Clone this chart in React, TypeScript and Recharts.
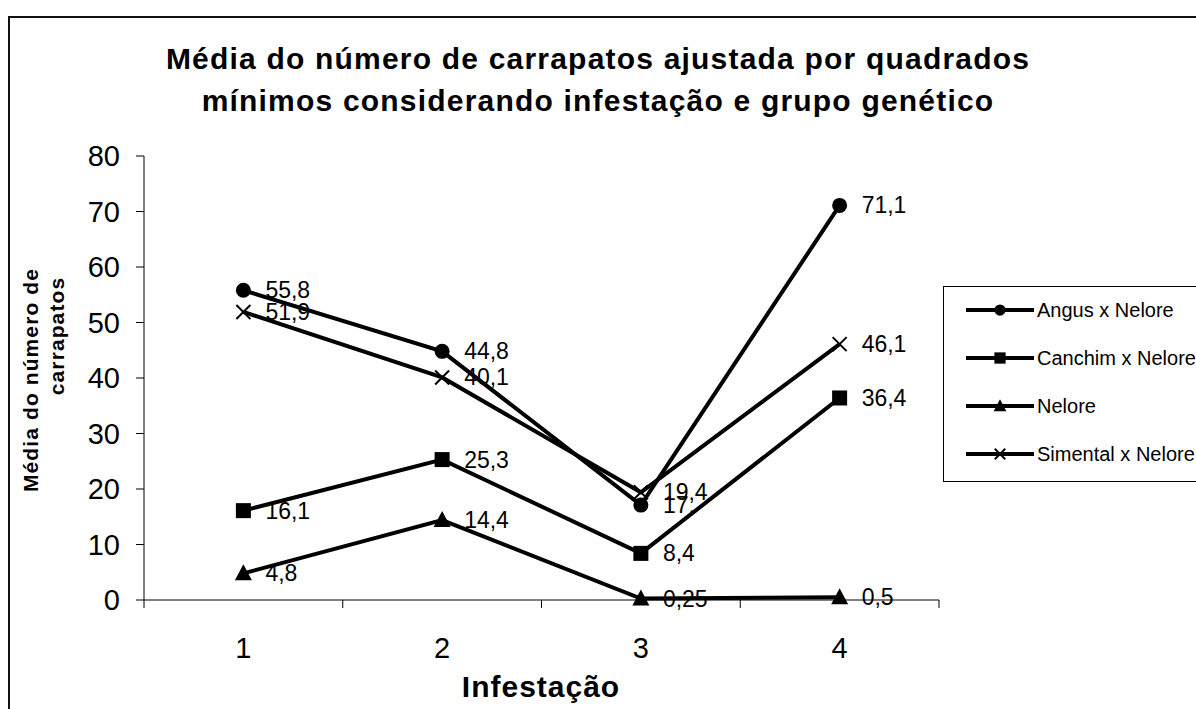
import React from "react";
import { LineChart, Line, XAxis, YAxis, LabelList } from "recharts";

const infestacoes = [1, 2, 3, 4];
const angus = [55.8, 44.8, 17.1, 71.1];
const canchim = [16.1, 25.3, 8.4, 36.4];
const nelore = [4.8, 14.4, 0.25, 0.5];
const simental = [51.9, 40.1, 19.4, 46.1];

const angusLabels = ["55,8", "44,8", "17,", "71,1"];
const canchimLabels = ["16,1", "25,3", "8,4", "36,4"];
const neloreLabels = ["4,8", "14,4", "0,25", "0,5"];
const simentalLabels = ["51,9", "40,1", "19,4", "46,1"];

const yTicks = [0, 10, 20, 30, 40, 50, 60, 70, 80];
const xTicks = [0.5, 1, 1.5, 2, 2.5, 3, 3.5, 4, 4.5];

const FONT = "'Liberation Sans', Arial, sans-serif";

const data = infestacoes.map((x, i) => ({
  x,
  angus: angus[i],
  canchim: canchim[i],
  nelore: nelore[i],
  simental: simental[i],
  angusLabel: angusLabels[i],
  canchimLabel: canchimLabels[i],
  neloreLabel: neloreLabels[i],
  simentalLabel: simentalLabels[i],
}));

type Shape = "circle" | "square" | "triangle" | "cross";

const series: { key: string; name: string; shape: Shape }[] = [
  { key: "angus", name: "Angus x Nelore", shape: "circle" },
  { key: "canchim", name: "Canchim x Nelore", shape: "square" },
  { key: "nelore", name: "Nelore", shape: "triangle" },
  { key: "simental", name: "Simental x Nelore", shape: "cross" },
];

function Marker({ cx, cy, shape, s = 1 }: { cx: number; cy: number; shape: Shape; s?: number }) {
  if (shape === "circle") return <circle cx={cx} cy={cy} r={7.5 * s} fill="#000" />;
  if (shape === "square")
    return <rect x={cx - 7.5 * s} y={cy - 7.5 * s} width={15 * s} height={15 * s} fill="#000" />;
  if (shape === "triangle")
    return (
      <polygon
        points={`${cx},${cy - 9 * s} ${cx - 8.5 * s},${cy + 7 * s} ${cx + 8.5 * s},${cy + 7 * s}`}
        fill="#000"
      />
    );
  const d = 7 * s;
  return (
    <g stroke="#000" strokeWidth={2}>
      <line x1={cx - d} y1={cy - d} x2={cx + d} y2={cy + d} />
      <line x1={cx - d} y1={cy + d} x2={cx + d} y2={cy - d} />
    </g>
  );
}

const makeDot = (shape: Shape) => (props: any) => {
  const { cx, cy, index } = props;
  if (cx == null || cy == null) return <g key={index} />;
  return <Marker key={`${shape}-${index}`} cx={cx} cy={cy} shape={shape} />;
};

const renderLabel = (props: any) => {
  const { x, y, value } = props;
  return (
    <text x={x + 22} y={y} dominantBaseline="central" fontSize={23} fontFamily={FONT} fill="#000">
      {value}
    </text>
  );
};

const XTick = (props: any) => {
  const { x, y, payload } = props;
  const v = payload.value;
  if (Number.isInteger(v)) {
    return (
      <text x={x} y={y + 50} textAnchor="middle" fontSize={29} fontFamily={FONT} fill="#000">
        {v}
      </text>
    );
  }
  return <line x1={x} x2={x} y1={y - 8} y2={y} stroke="#000" strokeWidth={1} />;
};

function LegendBox() {
  const rowY = [23, 71, 119, 167];
  return (
    <div
      style={{
        position: "absolute",
        left: 943,
        top: 286,
        width: 270,
        height: 194,
        border: "1px solid #000",
        background: "#fff",
      }}
    >
      <svg width={270} height={194} style={{ display: "block" }}>
        {series.map((s, i) => (
          <g key={s.key}>
            <line x1={22} x2={90} y1={rowY[i]} y2={rowY[i]} stroke="#000" strokeWidth={4} />
            <Marker cx={56} cy={rowY[i]} shape={s.shape} s={0.75} />
            <text x={93} y={rowY[i]} dominantBaseline="central" fontSize={20} fontFamily={FONT} fill="#000">
              {s.name}
            </text>
          </g>
        ))}
      </svg>
    </div>
  );
}

export default function App() {
  return (
    <div
      style={{
        position: "fixed",
        left: 0,
        top: 0,
        width: 1196,
        height: 709,
        background: "#fff",
        overflow: "hidden",
        fontFamily: FONT,
      }}
    >
      <div
        style={{
          position: "absolute",
          left: 8,
          top: 16,
          width: 1220,
          height: 740,
          border: "2px solid #111",
        }}
      />
      <div style={{ position: "absolute", left: 0, top: 0 }}>
        <LineChart width={1196} height={709} data={data} margin={{ top: 156, right: 257, bottom: 0, left: 0 }}>
          <XAxis
            dataKey="x"
            type="number"
            domain={[0.5, 4.5]}
            ticks={xTicks}
            interval={0}
            height={109}
            tickLine={false}
            tickSize={8}
            tickMargin={0}
            tick={<XTick />}
            axisLine={{ stroke: "#000", strokeWidth: 1 }}
          />
          <YAxis
            type="number"
            domain={[0, 80]}
            ticks={yTicks}
            interval={0}
            width={144}
            tickSize={8}
            tickMargin={16}
            tick={{ fontSize: 29, fill: "#000", fontFamily: FONT }}
            tickLine={{ stroke: "#000" }}
            axisLine={{ stroke: "#000", strokeWidth: 1 }}
          />
          {series.map((s) => (
            <Line
              key={s.key}
              dataKey={s.key}
              name={s.name}
              type="linear"
              stroke="#000"
              strokeWidth={4}
              dot={makeDot(s.shape)}
              activeDot={false}
              isAnimationActive={false}
            >
              <LabelList dataKey={`${s.key}Label`} content={renderLabel} />
            </Line>
          ))}
        </LineChart>
      </div>
      <svg
        width={1196}
        height={709}
        style={{ position: "absolute", left: 0, top: 0, pointerEvents: "none" }}
        fontFamily={FONT}
        fontWeight="bold"
        fill="#000"
      >
        <text x={598} y={69} textAnchor="middle" fontSize={30} letterSpacing={1.2}>
          Média do número de carrapatos ajustada por quadrados
        </text>
        <text x={598} y={111} textAnchor="middle" fontSize={30} letterSpacing={1.2}>
          mínimos considerando infestação e grupo genético
        </text>
        <text x={541} y={697} textAnchor="middle" fontSize={30} letterSpacing={1}>
          Infestação
        </text>
        <text x={38} y={380} textAnchor="middle" fontSize={21} letterSpacing={1.1} transform="rotate(-90 38 380)">
          Média do número de
        </text>
        <text x={64} y={336} textAnchor="middle" fontSize={21} letterSpacing={1.1} transform="rotate(-90 64 336)">
          carrapatos
        </text>
      </svg>
      <LegendBox />
    </div>
  );
}
